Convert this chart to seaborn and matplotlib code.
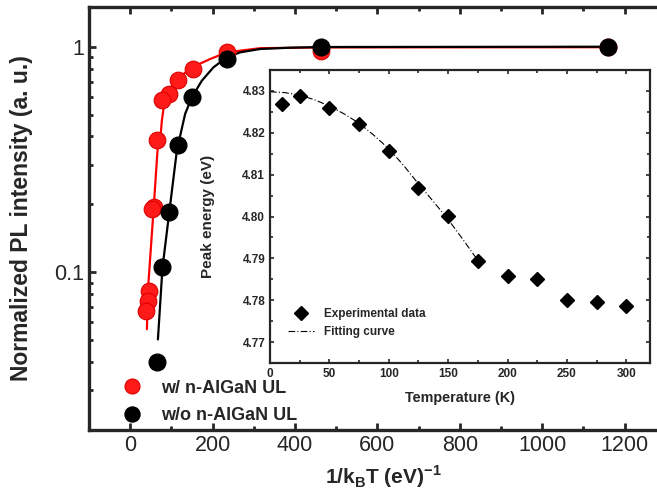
import numpy as np
import pandas as pd
import matplotlib
matplotlib.use("Agg")
import matplotlib.pyplot as plt
import seaborn as sns
from matplotlib.ticker import MultipleLocator, LogLocator, NullFormatter, FixedLocator

# main panel: normalized PL intensity vs 1/kBT
x_with = [1160, 463, 234, 152, 117, 95, 78, 66, 58, 52, 46, 42, 39]
y_with = [1.0, 0.955, 0.944, 0.80, 0.71, 0.62, 0.58, 0.384, 0.195, 0.19, 0.083, 0.0746, 0.0672]
x_without = [1160, 463, 234, 151, 116, 93, 77, 66]
y_without = [1.0, 1.0, 0.88, 0.60, 0.368, 0.185, 0.106, 0.040]

# fit curves
fit_with_x = [40.5, 42.9, 56.5, 66.2, 72.7, 76.8, 84.8, 109, 149.6, 194, 234, 315, 460, 1160]
fit_with_y = [0.056, 0.0832, 0.188, 0.347, 0.384, 0.471, 0.597, 0.707, 0.81, 0.882, 0.944, 0.985, 0.993, 0.995]
fit_without_x = [67.2, 78.3, 95.3, 113.2, 133.3, 149.6, 173.8, 201.9, 234.4, 266.7, 315, 388, 465, 1160]
fit_without_y = [0.0504, 0.105, 0.188, 0.347, 0.504, 0.597, 0.707, 0.81, 0.897, 0.944, 0.977, 0.99, 0.997, 1.0]

# inset: peak energy vs temperature
temp = [10, 25, 50, 75, 100, 125, 150, 175, 200, 225, 250, 275, 300]
peak = [4.8268, 4.8289, 4.8260, 4.8222, 4.8157, 4.8067, 4.8001, 4.7893, 4.7857, 4.7850, 4.7801, 4.7795, 4.7787]
fit_T = [0, 12.5, 25, 37.5, 50, 62.5, 75, 87.5, 100, 112.5, 125, 137.5, 150, 162.5, 175]
fit_E = [4.8298, 4.8296, 4.8290, 4.8279, 4.8264, 4.8245, 4.8223, 4.8194, 4.8162, 4.8122, 4.8078, 4.8036, 4.7993, 4.7945, 4.7895]

sns.set_style("ticks")
plt.rcParams['font.family'] = ['Liberation Sans', 'DejaVu Sans']
plt.rcParams['mathtext.fontset'] = 'custom'
plt.rcParams['mathtext.bf'] = 'Liberation Sans:bold'
plt.rcParams['mathtext.rm'] = 'Liberation Sans'

fig = plt.figure(figsize=(6.57, 5.03), dpi=100)
ax = fig.add_axes([0.1355, 0.1451, 0.878, 0.841])

sns.lineplot(x=fit_with_x, y=fit_with_y, sort=False, estimator=None, color='#ff0000', lw=1.6, ax=ax)
sns.lineplot(x=fit_without_x, y=fit_without_y, sort=False, estimator=None, color='black', lw=1.6, ax=ax)
ax.plot(x_with, y_with, 'o', ms=12, mfc='#ff1a1a', mec='#dd0000', mew=0.8, label='w/ n-AlGaN UL', zorder=3)
ax.plot(x_without, y_without, 'o', ms=12, mfc='black', mec='black', label='w/o n-AlGaN UL', zorder=4)

ax.set_yscale('log')
ax.set_xlim(-100, 1300)
ax.set_ylim(0.02, 1.5)
ax.xaxis.set_major_locator(MultipleLocator(200))
ax.xaxis.set_minor_locator(MultipleLocator(100))
ax.yaxis.set_major_locator(FixedLocator([0.1, 1]))
ax.yaxis.set_major_formatter(matplotlib.ticker.FuncFormatter(lambda v, p: '%g' % v))
ax.yaxis.set_minor_locator(LogLocator(base=10, subs=np.arange(2, 10)))
ax.yaxis.set_minor_formatter(NullFormatter())
ax.tick_params(which='both', direction='in', top=True, right=True, width=2, labelsize=15.5)
ax.tick_params(which='major', length=5)
ax.tick_params(which='minor', length=3)
for s in ax.spines.values():
    s.set_linewidth(2.4)
ax.set_xlabel(r'1/k$_\mathbf{B}$T (eV)$^\mathbf{-1}$', fontsize=15, fontweight='bold')
ax.set_ylabel('Normalized PL intensity (a. u.)', fontsize=16.5, fontweight='bold')
ax.xaxis.set_label_coords(0.51, -0.08)
ax.yaxis.set_label_coords(-0.097, 0.5)
ax.legend(loc='lower left', bbox_to_anchor=(0.015, -0.025), frameon=False,
          prop={'weight': 'bold', 'size': 13}, handletextpad=0.6, labelspacing=0.6, markerscale=0.9)

# inset
ins = fig.add_axes([0.411, 0.2783, 0.5784, 0.5825])
ins.plot(temp, peak, 'D', ms=7.5, color='black', label='Experimental data', zorder=3)
sns.lineplot(x=fit_T, y=fit_E, sort=False, estimator=None, color='black', lw=0.8,
             linestyle=(0, (6, 2, 1, 2)), ax=ins, label='Fitting curve')
ins.set_xlim(0, 320)
ins.set_ylim(4.765, 4.835)
ins.xaxis.set_major_locator(MultipleLocator(50))
ins.xaxis.set_minor_locator(MultipleLocator(25))
ins.yaxis.set_major_locator(MultipleLocator(0.01))
ins.yaxis.set_minor_locator(MultipleLocator(0.005))
ins.yaxis.set_major_formatter(matplotlib.ticker.FormatStrFormatter('%.2f'))
ins.tick_params(which='both', direction='in', top=True, right=True, width=1.2, labelsize=8.5)
ins.tick_params(which='major', length=3)
ins.tick_params(which='minor', length=2)
for lab in ins.get_xticklabels() + ins.get_yticklabels():
    lab.set_fontweight('bold')
for s in ins.spines.values():
    s.set_linewidth(1.6)
ins.set_xlabel('Temperature (K)', fontsize=10.4, fontweight='bold')
ins.set_ylabel('Peak energy (eV)', fontsize=11, fontweight='bold')
ins.xaxis.set_label_coords(0.5, -0.096)
ins.yaxis.set_label_coords(-0.145, 0.5)
ins.legend(loc='lower left', bbox_to_anchor=(0.02, 0.05), frameon=False,
           prop={'weight': 'bold', 'size': 8.5}, handlelength=2.2, labelspacing=0.45)

fig.savefig('out.png', dpi=100)
